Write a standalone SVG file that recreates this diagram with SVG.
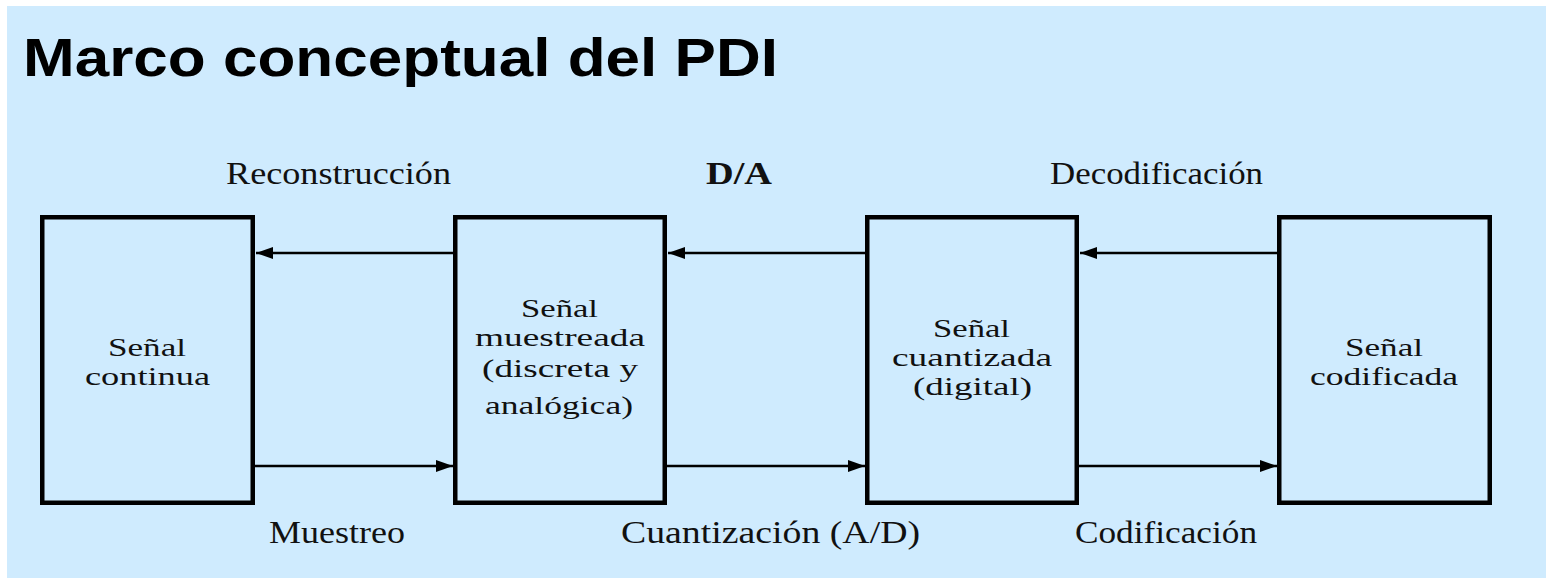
<svg xmlns="http://www.w3.org/2000/svg" width="1546" height="578" viewBox="0 0 1546 578">
<style>
.bg{fill:#cfebfe}
.box{fill:#cfebfe;stroke:#000;stroke-width:4.5}
.title{font-family:"Liberation Sans",Arial,sans-serif;font-weight:bold;font-size:54px;fill:#000}
.lbl{font-family:"Liberation Serif","Times New Roman",serif;font-size:32px;fill:#111}
.in{font-size:26px}
.bold{font-weight:bold}
.conn{stroke:#000;stroke-width:2.4;fill:none}
</style>
<defs>
<marker id="ah" markerUnits="userSpaceOnUse" markerWidth="18" markerHeight="13" refX="17" refY="6" orient="auto">
<path d="M0,0 L17,6 L0,12 z" fill="#000"/>
</marker>
</defs>
<rect class="bg" x="7" y="6" width="1539" height="572"/>
<text class="title" x="23" y="76" textLength="755" lengthAdjust="spacingAndGlyphs">Marco conceptual del PDI</text>

<g id="connectors">
<line class="conn" x1="1277" y1="253" x2="1080" y2="253" marker-end="url(#ah)"/>
<line class="conn" x1="865" y1="253" x2="668" y2="253" marker-end="url(#ah)"/>
<line class="conn" x1="453" y1="253" x2="256" y2="253" marker-end="url(#ah)"/>
<line class="conn" x1="255" y1="466" x2="453" y2="466" marker-end="url(#ah)"/>
<line class="conn" x1="667" y1="466" x2="865" y2="466" marker-end="url(#ah)"/>
<line class="conn" x1="1079" y1="466" x2="1277" y2="466" marker-end="url(#ah)"/>
<text class="lbl" x="226" y="184" textLength="225" lengthAdjust="spacingAndGlyphs">Reconstrucción</text>
<text class="lbl bold" x="706" y="184" textLength="66" lengthAdjust="spacingAndGlyphs">D/A</text>
<text class="lbl" x="1050" y="184" textLength="213" lengthAdjust="spacingAndGlyphs">Decodificación</text>
<text class="lbl" x="269" y="543" textLength="136" lengthAdjust="spacingAndGlyphs">Muestreo</text>
<text class="lbl" x="621" y="543" textLength="299" lengthAdjust="spacingAndGlyphs">Cuantización (A/D)</text>
<text class="lbl" x="1075" y="543" textLength="182" lengthAdjust="spacingAndGlyphs">Codificación</text>
</g>

<g id="node-continua">
<rect class="box" x="42.25" y="217.25" width="210.5" height="285.5"/>
<text class="lbl in" x="108" y="356" textLength="78" lengthAdjust="spacingAndGlyphs">Señal</text>
<text class="lbl in" x="85" y="385" textLength="125" lengthAdjust="spacingAndGlyphs">continua</text>
</g>

<g id="node-muestreada">
<rect class="box" x="455.25" y="217.25" width="209.5" height="285.5"/>
<text class="lbl in" x="521" y="317" textLength="77" lengthAdjust="spacingAndGlyphs">Señal</text>
<text class="lbl in" x="475" y="346" textLength="170" lengthAdjust="spacingAndGlyphs">muestreada</text>
<text class="lbl in" x="482" y="377" textLength="156" lengthAdjust="spacingAndGlyphs">(discreta y</text>
<text class="lbl in" x="485" y="414" textLength="148" lengthAdjust="spacingAndGlyphs">analógica)</text>
</g>

<g id="node-cuantizada">
<rect class="box" x="867.25" y="217.25" width="209.5" height="285.5"/>
<text class="lbl in" x="933" y="337" textLength="77" lengthAdjust="spacingAndGlyphs">Señal</text>
<text class="lbl in" x="892" y="366" textLength="160" lengthAdjust="spacingAndGlyphs">cuantizada</text>
<text class="lbl in" x="913" y="395" textLength="119" lengthAdjust="spacingAndGlyphs">(digital)</text>
</g>

<g id="node-codificada">
<rect class="box" x="1279.25" y="217.25" width="210.5" height="285.5"/>
<text class="lbl in" x="1345" y="356" textLength="78" lengthAdjust="spacingAndGlyphs">Señal</text>
<text class="lbl in" x="1310" y="385" textLength="148" lengthAdjust="spacingAndGlyphs">codificada</text>
</g>
</svg>
